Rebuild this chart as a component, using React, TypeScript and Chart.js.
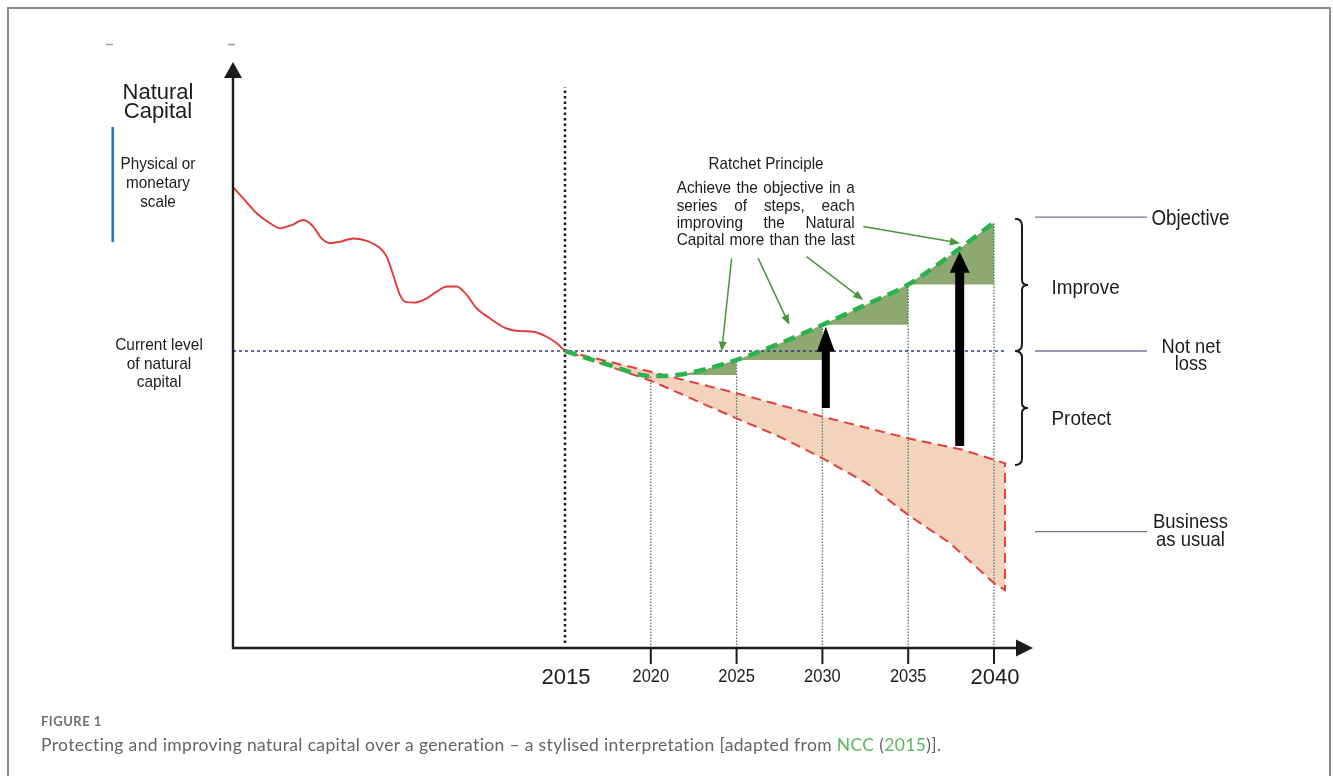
import React, { useEffect, useRef } from "react";
import { Chart, registerables } from "chart.js";
Chart.register(...registerables);

// ---------- DATA (years on x, natural-capital index on y; current level = 100) ----------
const historyYears = [1995.67, 1996.25, 1997.03, 1997.81, 1998.39, 1999.07, 1999.75, 2000.33, 2000.82, 2001.31, 2001.89, 2002.66, 2003.44, 2004.12, 2004.61, 2004.99, 2005.38, 2005.68, 2006.26, 2006.94, 2007.52, 2008.11, 2008.69, 2009.27, 2009.85, 2010.63, 2011.5, 2012.38, 2013.15, 2013.93, 2014.52, 2015];
const historyValues = [155.1, 151.4, 146.4, 143.0, 141.3, 142.4, 144.1, 141.9, 137.9, 136.3, 136.8, 137.9, 137.1, 135.1, 131.8, 125.6, 118.9, 116.6, 116.3, 117.7, 120.0, 121.7, 121.7, 118.9, 114.4, 111.0, 107.8, 106.7, 106.5, 104.8, 102.6, 100];

const objectiveYears = [2015, 2017.5, 2020, 2021.5, 2023, 2025, 2027.5, 2030, 2032.5, 2035, 2037.5, 2040];
const objectiveValues = [100, 95.4, 91.6, 91.9, 93.6, 97.0, 102.5, 108.8, 115.5, 122.4, 132.4, 143.3];

const bauUpperYears = [2015, 2020, 2025, 2030, 2035, 2038.2, 2040.64];
const bauUpperValues = [100, 93.0, 85.8, 77.9, 70.6, 66.7, 62.2];
const bauLowerYears = [2015, 2020, 2025, 2027.53, 2030, 2032.58, 2035, 2037.44, 2040, 2040.64];
const bauLowerValues = [100, 90.0, 77.3, 71.1, 63.9, 55.5, 44.8, 35.3, 21.8, 19.5];

const stepStarts = [2021.5, 2025, 2030, 2035];
const stepEnds = [2025, 2030, 2035, 2040];

const baselineYear = 2015;
const currentLevel = 100;
const baselineLineRange = [1.7, 188.9];
const milestoneYears = [2020, 2025, 2030, 2035, 2040];
const tickLabelsSmall = ["2020", "2025", "2030", "2035"];
const tickLabelsLarge = ["2015", "2040"];

const ratchetArrowYears = [2030.2, 2038.0];
const ratchetArrowFrom = [80.8, 68.0];
const ratchetArrowTo = [108.2, 133.4];

const noteArrowFromYears = [2024.71, 2026.26, 2029.08, 2032.38];
const noteArrowFromValues = [131.2, 131.2, 131.8, 141.9];
const noteArrowToYears = [2024.13, 2028.07, 2032.38, 2038.02];
const noteArrowToValues = [99.8, 108.8, 117.2, 136.3];

const bracketLevels = [144.5, 100, 61.6];
const leaderLevels = [145.1, 100, 39.2];

// ---------- LAYOUT ----------
const W = 1333;
const H = 776;
const AREA = { left: 233, right: 1033, top: 62, bottom: 648 };
const PX_PER_YEAR = 17.16;
const PX_PER_UNIT = 2.97;
const X_MIN = 2015 - (565 - AREA.left) / PX_PER_YEAR;
const X_MAX = 2015 + (AREA.right - 565) / PX_PER_YEAR;
const Y_MAX = (AREA.bottom - AREA.top) / PX_PER_UNIT;

const FONT = '"Liberation Sans", Arial, sans-serif';
const INK = "#1c1c1c";

function interp(xs: number[], ys: number[], x: number) {
  for (let i = 0; i < xs.length - 1; i++) {
    if (x >= xs[i] && x <= xs[i + 1]) {
      const t = (x - xs[i]) / (xs[i + 1] - xs[i]);
      return ys[i] + t * (ys[i + 1] - ys[i]);
    }
  }
  return ys[ys.length - 1];
}
const pts = (xs: number[], ys: number[]) => xs.map((x, i) => ({ x, y: ys[i] }));

function txt(ctx: CanvasRenderingContext2D, s: string, x: number, y: number, size: number, sx: number, align: CanvasTextAlign, color = INK, weight = "normal") {
  ctx.save();
  ctx.translate(x, y);
  ctx.scale(sx, 1);
  ctx.font = `${weight} ${size}px ${FONT}`;
  ctx.textAlign = align;
  ctx.textBaseline = "alphabetic";
  ctx.fillStyle = color;
  ctx.fillText(s, 0, 0);
  ctx.restore();
}

function justified(ctx: CanvasRenderingContext2D, lines: string[], left: number, width: number, baselines: number[], size: number, sx: number) {
  ctx.save();
  ctx.font = `${size}px ${FONT}`;
  ctx.fillStyle = INK;
  ctx.textAlign = "left";
  ctx.textBaseline = "alphabetic";
  lines.forEach((line, i) => {
    const words = line.split(" ");
    const ww = words.map((w) => ctx.measureText(w).width * sx);
    const total = ww.reduce((a, b) => a + b, 0);
    const spaceW = ctx.measureText(" ").width * sx;
    if (total + spaceW * (words.length - 1) >= width) {
      const nat = ctx.measureText(line).width;
      ctx.save();
      ctx.translate(left, baselines[i]);
      ctx.scale(width / nat, 1);
      ctx.fillText(line, 0, 0);
      ctx.restore();
    } else {
      const gap = (width - total) / (words.length - 1);
      let x = left;
      words.forEach((w, j) => {
        ctx.save();
        ctx.translate(x, baselines[i]);
        ctx.scale(sx, 1);
        ctx.fillText(w, 0, 0);
        ctx.restore();
        x += ww[j] + gap;
      });
    }
  });
  ctx.restore();
}

function lineArrow(ctx: CanvasRenderingContext2D, x1: number, y1: number, x2: number, y2: number, color: string) {
  const a = Math.atan2(y2 - y1, x2 - x1);
  const hl = 10, hw = 4;
  ctx.save();
  ctx.strokeStyle = color;
  ctx.fillStyle = color;
  ctx.lineWidth = 1.5;
  ctx.beginPath();
  ctx.moveTo(x1, y1);
  ctx.lineTo(x2 - Math.cos(a) * hl * 0.8, y2 - Math.sin(a) * hl * 0.8);
  ctx.stroke();
  ctx.beginPath();
  ctx.moveTo(x2, y2);
  ctx.lineTo(x2 - Math.cos(a) * hl - Math.sin(a) * hw, y2 - Math.sin(a) * hl + Math.cos(a) * hw);
  ctx.lineTo(x2 - Math.cos(a) * hl + Math.sin(a) * hw, y2 - Math.sin(a) * hl - Math.cos(a) * hw);
  ctx.closePath();
  ctx.fill();
  ctx.restore();
}

function blockArrow(ctx: CanvasRenderingContext2D, x: number, yBottom: number, yTip: number, shaftW: number, headW: number, headL: number) {
  ctx.beginPath();
  ctx.moveTo(x - shaftW / 2, yBottom);
  ctx.lineTo(x - shaftW / 2, yTip + headL);
  ctx.lineTo(x - headW / 2, yTip + headL);
  ctx.lineTo(x, yTip);
  ctx.lineTo(x + headW / 2, yTip + headL);
  ctx.lineTo(x + shaftW / 2, yTip + headL);
  ctx.lineTo(x + shaftW / 2, yBottom);
  ctx.closePath();
  ctx.fill();
}

function brace(ctx: CanvasRenderingContext2D, s: number, yTop: number, yBot: number) {
  const yMid = (yTop + yBot) / 2;
  const r = 7;
  ctx.beginPath();
  ctx.moveTo(s - r, yTop);
  ctx.quadraticCurveTo(s, yTop, s, yTop + r);
  ctx.lineTo(s, yMid - 5);
  ctx.quadraticCurveTo(s, yMid, s + 6, yMid);
  ctx.quadraticCurveTo(s, yMid, s, yMid + 5);
  ctx.lineTo(s, yBot - r);
  ctx.quadraticCurveTo(s, yBot, s - r, yBot);
  ctx.stroke();
}

const annotationPlugin = {
  id: "natcapAnnotations",
  afterDatasetsDraw(chart: any) {
    const ctx: CanvasRenderingContext2D = chart.ctx;
    const xs = chart.scales.x;
    const ys = chart.scales.y;
    const px = (v: number) => xs.getPixelForValue(v);
    const py = (v: number) => ys.getPixelForValue(v);
    const { left, right, top, bottom } = chart.chartArea;

    ctx.save();
    // axes
    ctx.strokeStyle = INK;
    ctx.fillStyle = INK;
    ctx.lineWidth = 2.4;
    ctx.beginPath();
    ctx.moveTo(left, top + 14);
    ctx.lineTo(left, bottom);
    ctx.lineTo(right - 15, bottom);
    ctx.stroke();
    ctx.beginPath();
    ctx.moveTo(left, top);
    ctx.lineTo(left - 9, top + 16);
    ctx.lineTo(left + 9, top + 16);
    ctx.closePath();
    ctx.fill();
    ctx.beginPath();
    ctx.moveTo(right, bottom);
    ctx.lineTo(right - 17, bottom - 8.5);
    ctx.lineTo(right - 17, bottom + 8.5);
    ctx.closePath();
    ctx.fill();
    // ticks
    ctx.lineWidth = 2;
    milestoneYears.forEach((yr) => {
      ctx.beginPath();
      ctx.moveTo(px(yr), bottom);
      ctx.lineTo(px(yr), bottom + 16);
      ctx.stroke();
    });
    // tick labels
    tickLabelsSmall.forEach((l) => txt(ctx, l, px(Number(l)), 681.5, 18.5, 0.89, "center"));
    tickLabelsLarge.forEach((l) => txt(ctx, l, px(Number(l)) + 1, 684, 22, 1.0, "center"));

    // black ratchet arrows
    ctx.fillStyle = "#000";
    blockArrow(ctx, px(ratchetArrowYears[0]), py(ratchetArrowFrom[0]), py(ratchetArrowTo[0]), 8, 18, 25);
    blockArrow(ctx, px(ratchetArrowYears[1]), py(ratchetArrowFrom[1]), py(ratchetArrowTo[1]), 9, 20, 21);

    // green annotation arrows
    noteArrowFromYears.forEach((yr, i) => {
      lineArrow(ctx, px(yr), py(noteArrowFromValues[i]), px(noteArrowToYears[i]), py(noteArrowToValues[i]), "#4a963b");
    });

    // braces
    ctx.strokeStyle = INK;
    ctx.lineWidth = 2;
    const bx = 1022;
    brace(ctx, bx, py(bracketLevels[0]), py(bracketLevels[1]));
    brace(ctx, bx, py(bracketLevels[1]), py(bracketLevels[2]));

    // leader lines
    ctx.strokeStyle = "#75759a";
    ctx.lineWidth = 1.3;
    leaderLevels.forEach((v) => {
      ctx.beginPath();
      ctx.moveTo(1035, py(v));
      ctx.lineTo(1147, py(v));
      ctx.stroke();
    });

    // right labels
    txt(ctx, "Objective", 1151.5, 224.5, 22, 0.85, "left");
    txt(ctx, "Improve", 1051.5, 294, 20.5, 0.92, "left");
    txt(ctx, "Not net", 1191, 352.5, 21, 0.87, "center");
    txt(ctx, "loss", 1191, 370, 21, 0.87, "center");
    txt(ctx, "Protect", 1051.5, 425, 21, 0.9, "left");
    txt(ctx, "Business", 1190.5, 528.3, 21, 0.88, "center");
    txt(ctx, "as usual", 1190.5, 546, 21, 0.88, "center");

    // ratchet note
    txt(ctx, "Ratchet Principle", 766, 169.3, 17, 0.895, "center");
    justified(ctx, ["Achieve the objective in a", "series of steps, each", "improving the Natural", "Capital more than the last"], 676.7, 178, [193.3, 210.5, 227.7, 244.9], 17, 0.9);

    // left labels
    txt(ctx, "Natural", 158, 99.3, 22, 1.0, "center");
    txt(ctx, "Capital", 158, 118.3, 22, 1.0, "center");
    txt(ctx, "Physical or", 158, 168.5, 17, 0.9, "center");
    txt(ctx, "monetary", 158, 187.5, 17, 0.9, "center");
    txt(ctx, "scale", 158, 206.5, 17, 0.9, "center");
    txt(ctx, "Current level", 159, 350, 17, 0.91, "center");
    txt(ctx, "of natural", 159, 368.5, 17, 0.91, "center");
    txt(ctx, "capital", 159, 387, 17, 0.91, "center");

    // blue bar
    ctx.strokeStyle = "#2172d0";
    ctx.lineWidth = 2.5;
    ctx.beginPath();
    ctx.moveTo(112.7, 127);
    ctx.lineTo(112.7, 242);
    ctx.stroke();

    // tiny stray dashes at the top
    ctx.strokeStyle = "#9a9a9a";
    ctx.lineWidth = 1.5;
    [[106, 113], [228, 235]].forEach(([a, b]) => {
      ctx.beginPath();
      ctx.moveTo(a, 44.5);
      ctx.lineTo(b, 44.5);
      ctx.stroke();
    });
    ctx.restore();
  },
};

export default function App() {
  const ref = useRef<HTMLCanvasElement>(null);
  useEffect(() => {
    const objective = pts(objectiveYears, objectiveValues);
    const bauPolygon = [...pts(bauUpperYears, bauUpperValues), ...pts(bauLowerYears, bauLowerValues).reverse()];
    const base = { pointRadius: 0, borderWidth: 0, fill: false as any };

    const stepSets = stepStarts.map((s, i) => {
      const e = stepEnds[i];
      const inner = objective.filter((p) => p.x > s && p.x < e);
      const data = [{ x: s, y: interp(objectiveYears, objectiveValues, s) }, ...inner, { x: e, y: interp(objectiveYears, objectiveValues, e) }];
      return { ...base, data, fill: { value: interp(objectiveYears, objectiveValues, s) }, backgroundColor: "#8ea872", cubicInterpolationMode: "monotone" as const };
    });
    const milestoneSets = milestoneYears.map((yr) => ({
      ...base,
      data: [{ x: yr, y: 0 }, { x: yr, y: interp(objectiveYears, objectiveValues, yr) }],
      borderWidth: 1.3,
      borderColor: "#4f7f62",
      borderDash: [1.5, 1.5],
    }));

    const datasets: any[] = [
      { ...base, label: "history", data: pts(historyYears, historyValues), borderColor: "#e03a3a", borderWidth: 1.9, cubicInterpolationMode: "monotone" },
      { ...base, label: "objective", data: objective, borderColor: "#2cb24c", borderWidth: 4.5, borderDash: [12, 7], cubicInterpolationMode: "monotone" },
      { ...base, label: "bau-border", data: bauPolygon, borderColor: "#e0413f", borderWidth: 2, borderDash: [10, 6] },
      { ...base, label: "current", data: [{ x: X_MIN, y: currentLevel }, { x: 2040.6, y: currentLevel }], borderColor: "#2a2a80", borderWidth: 1.4, borderDash: [3, 3] },
      ...milestoneSets,
      ...stepSets,
      { ...base, label: "bau-fill", data: bauPolygon, fill: "shape", backgroundColor: "#f4d3bd" },
      { ...base, label: "2015", data: [{ x: baselineYear, y: baselineLineRange[0] }, { x: baselineYear, y: baselineLineRange[1] }], borderColor: "#1a1a1a", borderWidth: 2.5, borderDash: [2.5, 3] },
    ];

    const chart = new Chart(ref.current as HTMLCanvasElement, {
      type: "line",
      data: { datasets },
      options: {
        responsive: false,
        animation: false,
        events: [],
        layout: { padding: { left: AREA.left, right: W - AREA.right, top: AREA.top, bottom: H - AREA.bottom } },
        scales: {
          x: { type: "linear", min: X_MIN, max: X_MAX, display: false },
          y: { type: "linear", min: 0, max: Y_MAX, display: false },
        },
        plugins: { legend: { display: false }, tooltip: { enabled: false } },
      },
      plugins: [annotationPlugin],
    } as any);
    return () => chart.destroy();
  }, []);

  const green = { color: "#5cb85c" };
  return (
    <div style={{ position: "absolute", left: 0, top: 0, width: W, height: H, overflow: "hidden", background: "#fff" }}>
      <div style={{ position: "absolute", left: 6.5, top: 6.5, width: 1324, height: 820, border: "2px solid #8c8c8c", borderBottom: "none", boxSizing: "border-box" }} />
      <canvas ref={ref} width={W} height={H} style={{ position: "absolute", left: 0, top: 0, width: W, height: H }} />
      <div style={{ position: "absolute", left: 41, top: 714, font: "700 13px Lato, sans-serif", lineHeight: "14px", color: "#707070", letterSpacing: 0.5, whiteSpace: "nowrap" }}>FIGURE 1</div>
      <div style={{ position: "absolute", left: 41, top: 735, font: "17.5px Lato, sans-serif", lineHeight: "20px", color: "#646464", letterSpacing: 0.35, fontVariantLigatures: "none", whiteSpace: "nowrap" }}>
        Protecting and improving natural capital over a generation – a stylised interpretation [adapted from <span style={green}>NCC</span> (<span style={green}>2015</span>)].
      </div>
    </div>
  );
}
